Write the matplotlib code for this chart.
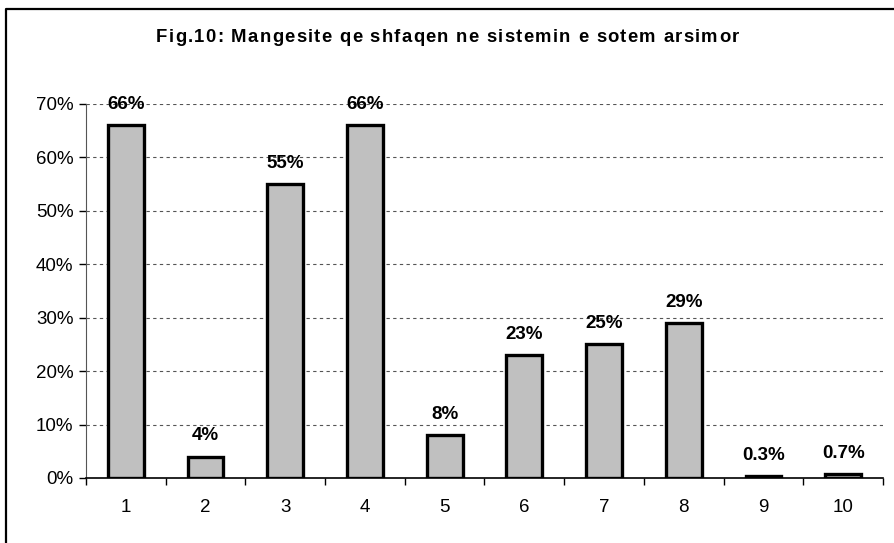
import matplotlib
matplotlib.use("Agg")
import matplotlib.pyplot as plt
import numpy as np
from matplotlib.ticker import FuncFormatter
from matplotlib.lines import Line2D

plt.rcParams['font.family'] = ['Liberation Sans', 'DejaVu Sans']

# Data
categories = ['1', '2', '3', '4', '5', '6', '7', '8', '9', '10']
values = [66, 4, 55, 66, 8, 23, 25, 29, 0.3, 0.7]
labels = ['66%', '4%', '55%', '66%', '8%', '23%', '25%', '29%', '0.3%', '0.7%']
title = 'Fig.10: Mangesite qe shfaqen ne sistemin e sotem arsimor'

W, H = 895, 543
fig = plt.figure(figsize=(W / 100, H / 100), dpi=100)

# outer chart frame (only top and left edges fall inside the image)
fig.add_artist(Line2D([6.5 / W, 6.5 / W, 1], [0, 1 - 9 / H, 1 - 9 / H],
                      transform=fig.transFigure, color='black', linewidth=1.6))

ax = fig.add_axes([86 / W, 65 / H, 797 / W, 374 / H])

x = np.arange(len(categories))
ax.bar(x, values, width=0.45, color='#c0c0c0', edgecolor='black', linewidth=2.4, zorder=3)

for xi, v, lab in zip(x, values, labels):
    ax.annotate(lab, (xi, v), xytext=(0, 9), textcoords='offset points',
                ha='center', va='bottom', fontsize=13.5, fontweight='bold', zorder=4)

ax.set_xlim(-0.5, len(categories) - 0.5)
ax.set_ylim(0, 70)
ax.set_yticks(np.arange(0, 71, 10))
ax.yaxis.set_major_formatter(FuncFormatter(lambda v, p: f'{int(v)}%'))
ax.set_xticks(x)
ax.set_xticklabels(categories)
ax.set_xticks(np.arange(-0.5, len(categories), 1), minor=True)
ax.tick_params(axis='x', which='major', length=0, pad=15, labelsize=13.5)
ax.tick_params(axis='x', which='minor', length=5, direction='out', width=1)
ax.tick_params(axis='y', length=5, direction='out', width=1, labelsize=13.5, pad=4)

ax.grid(axis='y', linestyle=(0, (3, 3)), color='#555555', linewidth=0.8, zorder=0)
ax.set_axisbelow(True)
for side in ['top', 'right']:
    ax.spines[side].set_visible(False)
ax.spines['left'].set_color('#555555')
ax.spines['bottom'].set_linewidth(1.2)

# title with slightly wide letter spacing, drawn char by char
renderer = fig.canvas.get_renderer()
tsize = 13.3
spacing = 1.3
widths = []
for ch in title:
    if ch == ' ':
        widths.append(0.278 * tsize * 100 / 72)
        continue
    t = fig.text(0, 0, ch, fontsize=tsize, fontweight='bold')
    widths.append(t.get_window_extent(renderer).width)
    t.remove()
total = sum(widths) + spacing * (len(title) - 1)
xpos = (W - total) / 2
for ch, w in zip(title, widths):
    if ch != ' ':
        fig.text(xpos / W, 1 - 42 / H, ch, fontsize=tsize, fontweight='bold',
                 ha='left', va='baseline')
    xpos += w + spacing

fig.savefig('out.png', dpi=100)
